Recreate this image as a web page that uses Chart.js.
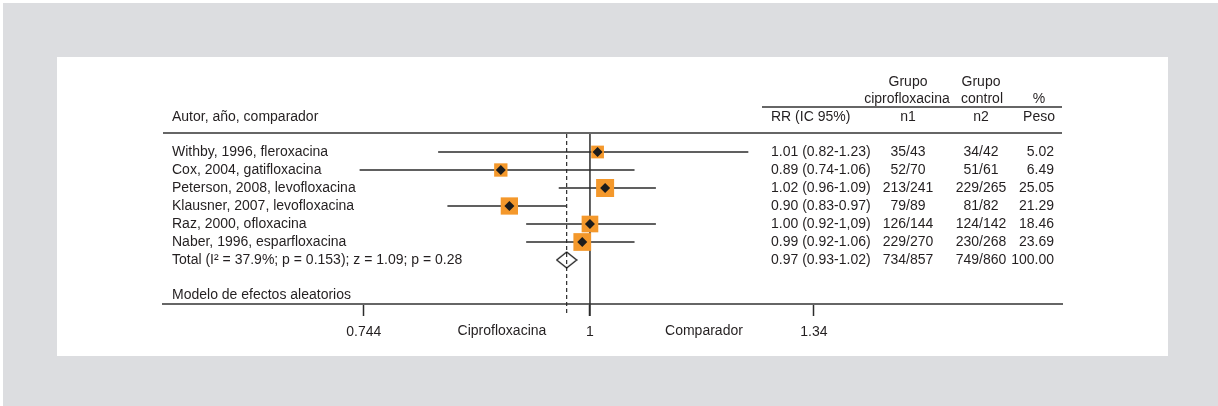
<!DOCTYPE html>
<html lang="es">
<head>
<meta charset="utf-8">
<title>Ciprofloxacina vs comparador - RR</title>
<script src="https://cdn.jsdelivr.net/npm/chart.js@4.4.1/dist/chart.umd.min.js"></script>
<style>
    html, body { margin: 0; padding: 0; background: #fff; }
    body { width: 1218px; height: 406px; position: relative; overflow: hidden; }
    #frame { position: absolute; left: 3px; top: 3px; right: 0; bottom: 0; background: #dcdde0; }
    #panel { position: absolute; left: 57px; top: 57px; width: 1111px; height: 299px; background: #fff; }
    #forestChart { position: absolute; left: 0; top: 0; }
</style>
</head>
<body>
<div id="frame"></div>
<div id="panel"></div>
<canvas id="forestChart" width="1218" height="406"></canvas>
<script>
// Forest plot data
const studies = [
    'Withby, 1996, fleroxacina',
    'Cox, 2004, gatifloxacina',
    'Peterson, 2008, levofloxacina',
    'Klausner, 2007, levofloxacina',
    'Raz, 2000, ofloxacina',
    'Naber, 1996, esparfloxacina'
];
const totalLabel = 'Total (I\u00b2 = 37.9%; p = 0.153); z = 1.09; p = 0.28';

const rr = [1.01, 0.89, 1.02, 0.90, 1.00, 0.99];
const ciLow = [0.82, 0.74, 0.96, 0.83, 0.92, 0.92];
const ciHigh = [1.23, 1.06, 1.09, 0.97, 1.09, 1.06];
const weights = [5.02, 6.49, 25.05, 21.29, 18.46, 23.69];

const totalRR = 0.97;
const totalWeight = 100.00;

// text column exactly as printed (includes the "1,09")
const rrLabels = [
    '1.01 (0.82-1.23)',
    '0.89 (0.74-1.06)',
    '1.02 (0.96-1.09)',
    '0.90 (0.83-0.97)',
    '1.00 (0.92-1,09)',
    '0.99 (0.92-1.06)',
    '0.97 (0.93-1.02)'
];
const ciproEvents = [35, 52, 213, 79, 126, 229, 734];
const ciproTotal = [43, 70, 241, 89, 144, 270, 857];
const controlEvents = [34, 51, 229, 81, 124, 230, 749];
const controlTotal = [42, 61, 265, 82, 142, 268, 860];

const tickValues = [0.744, 1, 1.34];
const tickLabels = ['0.744', '1', '1.34'];

const TEXT = '#231f20';
const LINE = '#2b2b2b';
const RULE = '#666666';
const ORANGE = '#f4982b';
const FONT = '"Liberation Sans", Arial, Helvetica, sans-serif';

const rows = studies.map((s, i) => i + 1);
const totalRow = studies.length + 1;

// square side grows with the weight
function squareRadius(w) {
    const side = 8.5 + 1.9 * Math.sqrt(w);
    return side / (2 * Math.SQRT1_2);
}

// hollow diamond used for the pooled estimate
function makeDiamond() {
    const c = document.createElement('canvas');
    c.width = 22;
    c.height = 18;
    const g = c.getContext('2d');
    g.strokeStyle = '#111';
    g.lineWidth = 1.2;
    g.beginPath();
    g.moveTo(1, 9);
    g.lineTo(11, 1);
    g.lineTo(21, 9);
    g.lineTo(11, 17);
    g.closePath();
    g.stroke();
    return c;
}

const forestPlugin = {
    id: 'forestText',
    beforeDatasetsDraw(chart) {
        const { ctx, chartArea, scales } = chart;
        const x1 = scales.x.getPixelForValue(1);
        const xt = scales.x.getPixelForValue(totalRR);
        ctx.save();
        ctx.strokeStyle = LINE;
        ctx.lineWidth = 1.5;
        ctx.beginPath();
        ctx.moveTo(x1, chartArea.top);
        ctx.lineTo(x1, chartArea.bottom + 12);
        ctx.stroke();

        ctx.lineWidth = 1.2;
        ctx.setLineDash([4, 3]);
        ctx.beginPath();
        ctx.moveTo(xt, chartArea.top);
        ctx.lineTo(xt, chartArea.bottom + 12);
        ctx.stroke();
        ctx.restore();
    },
    afterDraw(chart) {
        const { ctx, chartArea, scales } = chart;
        const y = scales.y;
        ctx.save();

        // rules
        ctx.strokeStyle = RULE;
        ctx.lineWidth = 2;
        ctx.beginPath();
        ctx.moveTo(chartArea.left, chartArea.top - 1);
        ctx.lineTo(chartArea.right, chartArea.top - 1);
        ctx.moveTo(762, 107);
        ctx.lineTo(chartArea.right, 107);
        ctx.stroke();

        ctx.fillStyle = TEXT;
        ctx.font = '14px ' + FONT;
        ctx.textBaseline = 'middle';

        // headers
        ctx.textAlign = 'left';
        ctx.fillText('Autor, año, comparador', 172, 117);
        ctx.fillText('RR (IC 95%)', 771, 117);
        ctx.textAlign = 'center';
        ctx.fillText('Grupo', 908, 82);
        ctx.fillText('ciprofloxacina', 907, 99);
        ctx.fillText('n1', 908, 117);
        ctx.fillText('Grupo', 981, 82);
        ctx.fillText('control', 982, 99);
        ctx.fillText('n2', 981, 117);
        ctx.fillText('%', 1039, 99);
        ctx.textAlign = 'right';
        ctx.fillText('Peso', 1055, 117);

        // rows
        const labels = studies.concat([totalLabel]);
        const allWeights = weights.concat([totalWeight]);
        labels.forEach((label, i) => {
            const py = y.getPixelForValue(i + 1);
            ctx.textAlign = 'left';
            ctx.fillText(label, 172, py);
            ctx.fillText(rrLabels[i], 771, py);
            ctx.textAlign = 'center';
            ctx.fillText(ciproEvents[i] + '/' + ciproTotal[i], 908, py);
            ctx.fillText(controlEvents[i] + '/' + controlTotal[i], 981, py);
            ctx.textAlign = 'right';
            ctx.fillText(allWeights[i].toFixed(2), 1054, py);
        });

        ctx.textAlign = 'left';
        ctx.fillText('Modelo de efectos aleatorios', 172, 295);

        // direction labels under the axis
        const x1 = scales.x.getPixelForValue(1);
        ctx.textBaseline = 'top';
        ctx.textAlign = 'center';
        ctx.fillText('Ciprofloxacina', x1 - 88, chartArea.bottom + 20);
        ctx.fillText('Comparador', x1 + 114, chartArea.bottom + 20);

        ctx.restore();
    }
};

const ciDatasets = studies.map((s, i) => ({
    label: s,
    data: [{ x: ciLow[i], y: rows[i] }, { x: ciHigh[i], y: rows[i] }],
    showLine: true,
    borderColor: LINE,
    borderWidth: 1.5,
    pointRadius: 0,
    order: 3
}));

const chart = new Chart(document.getElementById('forestChart'), {
    type: 'scatter',
    data: {
        datasets: [
            ...ciDatasets,
            {
                label: 'Peso',
                data: rr.map((v, i) => ({ x: v, y: rows[i] })),
                pointStyle: 'rect',
                pointRadius: weights.map(squareRadius),
                backgroundColor: ORANGE,
                borderWidth: 0,
                order: 2
            },
            {
                label: 'RR',
                data: rr.map((v, i) => ({ x: v, y: rows[i] })),
                pointStyle: 'rectRot',
                pointRadius: 5,
                backgroundColor: '#1c1c1c',
                borderWidth: 0,
                order: 1
            },
            {
                label: 'Total',
                data: [{ x: totalRR, y: totalRow }],
                pointStyle: makeDiamond(),
                pointRadius: 10,
                order: 0
            }
        ]
    },
    options: {
        responsive: false,
        animation: false,
        events: [],
        layout: {
            padding: { left: 163, right: 156, top: 134, bottom: 62 }
        },
        plugins: {
            legend: { display: false },
            tooltip: { enabled: false }
        },
        scales: {
            x: {
                type: 'logarithmic',
                bounds: 'data',
                min: 0.5723,
                max: 1.8534,
                afterBuildTicks: function (scale) {
                    scale.ticks = tickValues.map(v => ({ value: v }));
                },
                afterFit: function (scale) {
                    scale.height = 40;
                },
                ticks: {
                    autoSkip: false,
                    maxRotation: 0,
                    padding: 8,
                    color: TEXT,
                    font: { size: 14, family: FONT },
                    callback: function (value, index) {
                        return tickLabels[index];
                    }
                },
                grid: {
                    drawOnChartArea: false,
                    drawTicks: true,
                    tickLength: 12,
                    tickColor: LINE,
                    tickWidth: 1.5
                },
                border: {
                    display: true,
                    color: RULE,
                    width: 2
                }
            },
            y: {
                type: 'linear',
                display: false,
                reverse: true,
                min: 0,
                max: 170 / 18
            }
        }
    },
    plugins: [forestPlugin]
});
</script>
</body>
</html>
